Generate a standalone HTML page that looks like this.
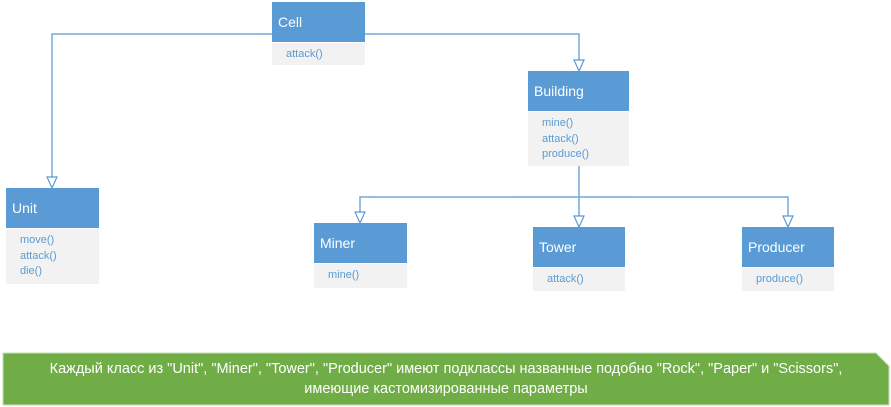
<!DOCTYPE html>
<html><head><meta charset="utf-8"><style>
body{margin:0;width:891px;height:407px;background:#fff;position:relative;overflow:hidden;font-family:"Liberation Sans",sans-serif}
.b{position:absolute}
.h{background:#5b9bd5;color:#fff;font-size:14px;box-sizing:border-box;padding-left:6px;display:flex;align-items:center;border-bottom:1px solid #fff}
.m{background:#f2f2f2;color:#5b9bd5;font-size:11px;padding:4px 0 0 14px;box-sizing:border-box;line-height:15.5px}
.note{position:absolute;left:3px;top:353px;width:886px;height:52px;color:#fff;font-family:"Liberation Sans Narrow","Liberation Sans",sans-serif;font-size:14.5px;text-align:center;line-height:20px;box-sizing:border-box;padding-top:6px}
</style></head><body>
<svg class="b" style="left:0;top:0" width="891" height="407">
<g fill="none" stroke="#5b9bd5" stroke-width="1.5" opacity="0.85">
<polyline points="272,34 52,34 52,180"/>
<polyline points="365,34 579,34 579,63"/>
<polyline points="579,166 579,219"/>
<polyline points="360,216 360,197 788,197 788,219"/>
</g>
<g fill="#fff" stroke="#5b9bd5" stroke-width="1.2">
<polygon points="47,177 57,177 52,188"/>
<polygon points="574,60 584,60 579,71"/>
<polygon points="355,212 365,212 360,223"/>
<polygon points="574,216 584,216 579,227"/>
<polygon points="783,216 793,216 788,227"/>
</g>
<polygon points="3,353 876,353 889,366 889,405 3,405" fill="#70ad47" stroke="#c5e0b4" stroke-width="1"/>
</svg>
<div class="b" style="left:272px;top:2px;width:93px"><div class="h" style="height:41px">Cell</div><div class="m" style="height:22px">attack()</div></div>
<div class="b" style="left:528px;top:71px;width:101px"><div class="h" style="height:41px">Building</div><div class="m" style="height:54px">mine()<br>attack()<br>produce()</div></div>
<div class="b" style="left:6px;top:188px;width:93px"><div class="h" style="height:41px">Unit</div><div class="m" style="height:55px">move()<br>attack()<br>die()</div></div>
<div class="b" style="left:314px;top:223px;width:93px"><div class="h" style="height:41px">Miner</div><div class="m" style="height:24px">mine()</div></div>
<div class="b" style="left:533px;top:227px;width:92px"><div class="h" style="height:41px">Tower</div><div class="m" style="height:23px">attack()</div></div>
<div class="b" style="left:742px;top:227px;width:92px"><div class="h" style="height:41px">Producer</div><div class="m" style="height:23px">produce()</div></div>
<div class="note">Каждый класс из "Unit", "Miner", "Tower", "Producer" имеют подклассы названные подобно "Rock", "Paper" и "Scissors",<br>имеющие кастомизированные параметры</div>
</body></html>
